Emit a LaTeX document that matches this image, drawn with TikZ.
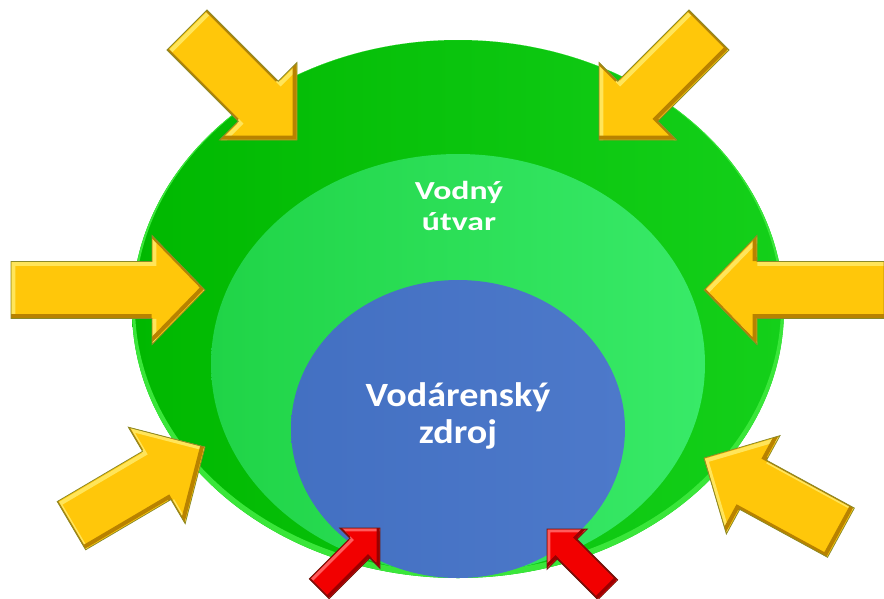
\documentclass[tikz,border=0pt]{standalone}
\usepackage{fontspec}
\setmainfont{Carlito}
\usetikzlibrary{calc}
\definecolor{gdark}{HTML}{00B800}
\definecolor{gdarkR}{HTML}{14D01A}
\definecolor{glight}{HTML}{20D447}
\definecolor{glightR}{HTML}{38EA68}
\definecolor{gblue}{HTML}{4370C2}
\definecolor{gblueR}{HTML}{4D79CA}
\definecolor{grim}{HTML}{3AE63A}
\definecolor{ymain}{HTML}{FFC70A}
\definecolor{ylight}{HTML}{FFE55A}
\definecolor{ydark}{HTML}{B88200}
\definecolor{yline}{HTML}{8C8A28}
\definecolor{rmain}{HTML}{F20000}
\definecolor{rlight}{HTML}{FF5C5C}
\definecolor{rdark}{HTML}{9A0000}
\definecolor{rline}{HTML}{6A1A10}
% name, tip x, tip y, angle, length, shaft width, head width, head length
\newcommand{\mkarrow}[8]{%
  \begin{scope}[shift={(#2,#3)},rotate=#4]
    \coordinate (#1-1) at (-#5,-#6/2);
    \coordinate (#1-2) at (-#8,-#6/2);
    \coordinate (#1-3) at (-#8,-#7/2);
    \coordinate (#1-4) at (0,0);
    \coordinate (#1-5) at (-#8,#7/2);
    \coordinate (#1-6) at (-#8,#6/2);
    \coordinate (#1-7) at (-#5,#6/2);
  \end{scope}}
\newcommand{\arrowpath}[1]{(#1-1) -- (#1-2) -- (#1-3) -- (#1-4) -- (#1-5) -- (#1-6) -- (#1-7) -- cycle}
% name, main, light, dark, outline, bevel width
\newcommand{\drawarrow}[6]{%
  \begin{scope}
    \clip \arrowpath{#1};
    \fill[#2] \arrowpath{#1};
    \begin{scope}[transform canvas={shift={(0.6*#6,-0.6*#6)}}]
      \draw[#3,line width=#6,line join=miter] \arrowpath{#1};
    \end{scope}
    \begin{scope}[transform canvas={shift={(-0.6*#6,0.6*#6)}}]
      \draw[#4,line width=#6,line join=miter] \arrowpath{#1};
    \end{scope}
  \end{scope}
  \draw[#5,line width=0.8pt,line join=miter] \arrowpath{#1};}
\tikzset{lbl/.style={text=white,align=center,inner sep=0pt}}
\begin{document}
\begin{tikzpicture}[x=1pt,y=-1pt]
\useasboundingbox (0,0) rectangle (884,598);
% outer water body
\begin{scope}
  \clip (458,309) ellipse [x radius=326pt,y radius=269pt];
  \shade[left color=gdark,right color=gdarkR] (458,309) ellipse [x radius=326pt,y radius=269pt];
  \draw[grim,line width=6pt,transform canvas={shift={(0pt,3pt)}}] (458,309) ellipse [x radius=326pt,y radius=269pt];
\end{scope}
% inner light green
\shade[left color=glight,right color=glightR] (458,364) ellipse [x radius=247pt,y radius=210pt];
% blue source
\shade[left color=gblue,right color=gblueR] (458,429) ellipse [x radius=167pt,y radius=149pt];
% labels
\node[lbl,font=\bfseries\fontsize{26}{31}\selectfont] (vu) at (459,206)
  {\scalebox{1.3}[1]{Vodný}\\\scalebox{1.3}[1]{útvar}};
\node[lbl,font=\bfseries\fontsize{34}{37}\selectfont] (vz) at (458,416)
  {\scalebox{1.12}[1]{Vodárenský}\\\scalebox{1.12}[1]{zdroj}};
% yellow arrows
\mkarrow{tl}{297}{140}{-45}{155.6}{56.6}{109.6}{54.8}
\mkarrow{tr}{599}{140}{-135}{155.6}{56.6}{109.6}{54.8}
\mkarrow{ml}{205}{290}{0}{194}{57}{109}{53}
\mkarrow{mr}{704}{290}{180}{184}{57}{109}{53}
\mkarrow{bl}{205}{447}{30.5}{155}{56}{112}{56}
\mkarrow{br}{704}{458}{151.4}{156}{56}{112}{56}
\foreach \a in {tl,tr,ml,mr,bl,br}{\drawarrow{\a}{ymain}{ylight}{ydark}{yline}{4pt}}
% red arrows
\mkarrow{rl}{380}{528}{45}{86}{28}{57}{28.5}
\mkarrow{rr}{547}{529}{135}{86}{28}{57}{28.5}
\foreach \a in {rl,rr}{\drawarrow{\a}{rmain}{rlight}{rdark}{rline}{3pt}}
\end{tikzpicture}
\end{document}
